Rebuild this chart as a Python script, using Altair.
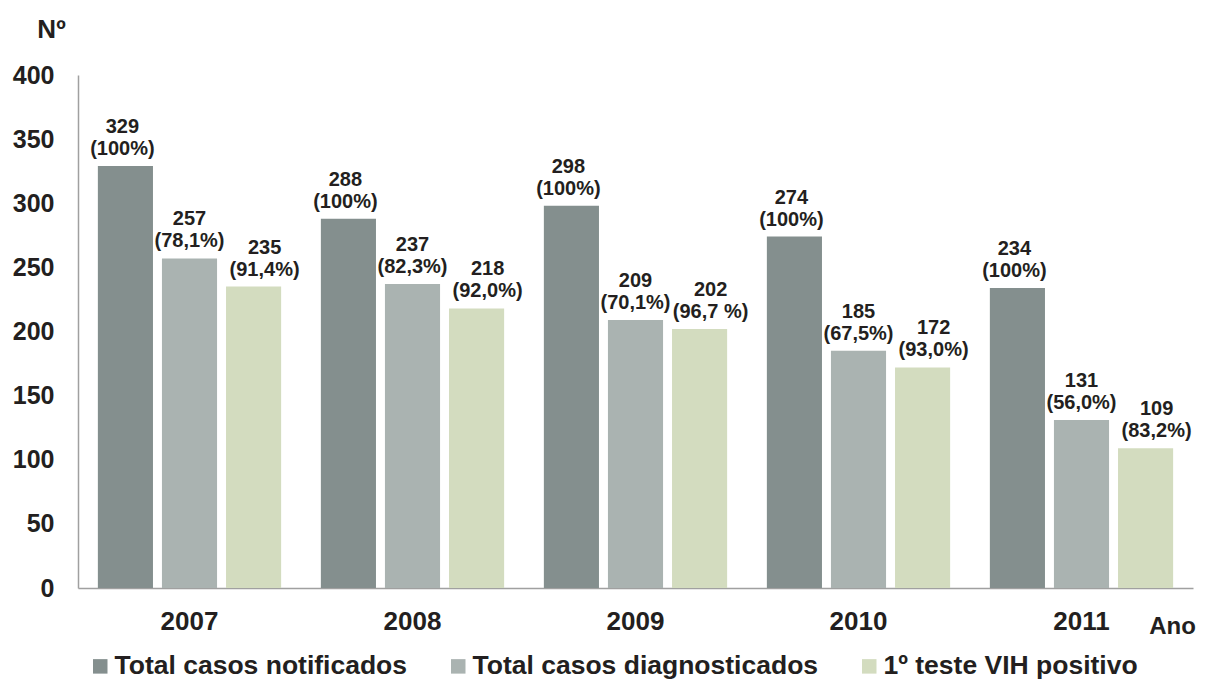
import altair as alt
import pandas as pd

years = ["2007", "2008", "2009", "2010", "2011"]
series = ["Total casos notificados", "Total casos diagnosticados", "1º teste VIH positivo"]
notificados = [329, 288, 298, 274, 234]
diagnosticados = [257, 237, 209, 185, 131]
positivos = [235, 218, 202, 172, 109]
pct_notificados = ["(100%)", "(100%)", "(100%)", "(100%)", "(100%)"]
pct_diagnosticados = ["(78,1%)", "(82,3%)", "(70,1%)", "(67,5%)", "(56,0%)"]
pct_positivos = ["(91,4%)", "(92,0%)", "(96,7 %)", "(93,0%)", "(83,2%)"]
colors = ["#848f8e", "#aab3b1", "#d3dcbf"]

rows = []
for vals, pcts, s in [(notificados, pct_notificados, series[0]),
                      (diagnosticados, pct_diagnosticados, series[1]),
                      (positivos, pct_positivos, series[2])]:
    for y, v, p in zip(years, vals, pcts):
        rows.append({"Ano": y, "Serie": s, "Valor": v, "Num": str(v), "Pct": p})
df = pd.DataFrame(rows)

FONT = "Liberation Sans"
TXT = "#231f20"

x = alt.X("Ano:N", sort=years, scale=alt.Scale(paddingInner=0, paddingOuter=0),
          axis=alt.Axis(title="Ano", labelAngle=0, labelFontSize=26, labelFontWeight="bold",
                        labelColor=TXT, labelPadding=41, labelBaseline="alphabetic", ticks=False,
                        domainColor="#a0a0a0", domainWidth=1.5,
                        titleFontSize=24, titleFontWeight="bold", titleColor=TXT,
                        titleX=1094, titleY=45, titleAlign="center",
                        titleBaseline="alphabetic"))
xoff = alt.XOffset("Serie:N", sort=series,
                   scale=alt.Scale(paddingInner=0.14, paddingOuter=0.31))

base = alt.Chart(df)

bars = base.mark_bar().encode(
    x=x,
    xOffset=xoff,
    y=alt.Y("Valor:Q", scale=alt.Scale(domain=[0, 400]),
            axis=alt.Axis(title="Nº", values=list(range(0, 401, 50)), grid=False, ticks=False,
                          labelFontSize=25, labelFontWeight="bold", labelColor=TXT,
                          labelPadding=24, domainColor="#a0a0a0", domainWidth=1.5,
                          titleAngle=0, titleFontSize=26, titleFontWeight="bold",
                          titleColor=TXT, titleX=-27, titleY=-38,
                          titleAlign="center", titleBaseline="alphabetic")),
    color=alt.Color("Serie:N", sort=series,
                    scale=alt.Scale(domain=series, range=colors),
                    legend=alt.Legend(title=None, orient="none", legendX=9, legendY=578,
                                      direction="horizontal", columns=3, symbolType="square",
                                      symbolSize=210, symbolStrokeWidth=0, labelFontSize=26.5,
                                      labelFontWeight="bold", labelColor=TXT,
                                      labelOffset=1, columnPadding=37, labelLimit=600)),
)

layers = [bars]
for s, dx in zip(series, [-3, 0, 11]):
    sub = base.transform_filter(alt.datum.Serie == s)
    layers.append(
        sub.mark_text(font=FONT, fontSize=20, fontWeight="bold", color=TXT,
                      baseline="alphabetic", dy=-11, dx=dx
                      ).encode(x=x, xOffset=xoff, y="Valor:Q", text="Pct:N")
    )
    layers.append(
        sub.mark_text(font=FONT, fontSize=20, fontWeight="bold", color=TXT,
                      baseline="alphabetic", dy=-33, dx=dx
                      ).encode(x=x, xOffset=xoff, y="Valor:Q", text="Num:N")
    )

chart = alt.layer(*layers).properties(
    width=1115, height=513,
    autosize=alt.AutoSizeParams(type="none"),
    padding={"left": 70, "top": 67, "right": 7, "bottom": 92},
).configure(font=FONT).configure_view(stroke=None)

chart.save("out.html", embed_options={"renderer": "svg", "actions": False})
